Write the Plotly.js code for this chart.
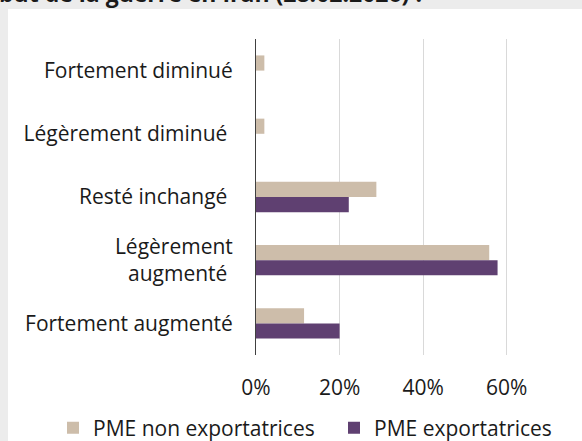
<!DOCTYPE html>
<html>
<head>
<meta charset="utf-8">
<script src="https://cdn.plot.ly/plotly-3.0.1.min.js"></script>
<style>html,body{margin:0;padding:0;background:#ECECEC;}#chart{width:582px;height:441px;}</style>
</head>
<body>
<div id="chart"></div>
<script>
var categories = ["Fortement diminué", "Légèrement diminué\u00a0", "Resté inchangé\u00a0", "Légèrement<br>augmenté\u00a0", "Fortement augmenté"];
var nonExportValues = [0.02, 0.02, 0.288, 0.558, 0.115];
var exportValues = [0, 0, 0.222, 0.578, 0.20];
var seriesNames = ["PME non exportatrices", "PME exportatrices"];
var titleText = "but de la guerre en Iran (28.02.2026) :";
var xTickValues = [0, 0.2, 0.4, 0.6];
var xTickLabels = ["0%", "20%", "40%", "60%"];

var FONT = "'Open Sans', 'Noto Sans', sans-serif";
var W = 582, H = 441;
var mL = 256, mR = 0, mT = 39, mB = 86;
var pw = W - mL - mR, ph = H - mT - mB;
function px(x){ return (x - mL) / pw; }
function py(y){ return (H - mB - y) / ph; }

var traces = [
  {type: "bar", orientation: "h", name: seriesNames[0], y: categories, x: nonExportValues,
   marker: {color: "#CDBDAA", line: {width: 0}}, hoverinfo: "x+y"},
  {type: "bar", orientation: "h", name: seriesNames[1], y: categories, x: exportValues,
   marker: {color: "#5F4071", line: {width: 0}}, hoverinfo: "x+y"}
];

var layout = {
  width: W, height: H,
  margin: {l: mL, r: mR, t: mT, b: mB, pad: 0, autoexpand: false},
  paper_bgcolor: "#ECECEC",
  plot_bgcolor: "#FFFFFF",
  font: {family: FONT, size: 21, color: "#1A1A1A"},
  barmode: "group",
  bargap: 0.52,
  bargroupgap: 0,
  showlegend: true,
  legend: {orientation: "h", traceorder: "normal", x: px(53), xanchor: "left", y: py(428), yanchor: "middle",
           font: {family: FONT, size: 21, color: "#1A1A1A"}, bgcolor: "rgba(0,0,0,0)", entrywidth: 236},
  xaxis: {range: [0, 0.78], tickvals: xTickValues, ticktext: xTickLabels, showgrid: true, gridcolor: "#D9D9D9", gridwidth: 1,
          zeroline: false, showline: false, ticks: "", ticklabelstandoff: 18, fixedrange: true,
          tickfont: {family: FONT, size: 21, color: "#1A1A1A"}},
  yaxis: {type: "category", autorange: "reversed", showgrid: false, zeroline: false, showline: true, linecolor: "#404040", linewidth: 1,
          ticks: "", ticklabelstandoff: 18, fixedrange: true,
          tickfont: {family: FONT, size: 21, color: "#1A1A1A"}},
  shapes: [
    {type: "rect", xref: "paper", yref: "paper", x0: px(8), x1: px(W + 5), y0: py(H + 5), y1: py(9),
     fillcolor: "#FFFFFF", line: {width: 0}, layer: "below"}
  ],
  annotations: [
    {text: "<b>" + titleText + "</b>", xref: "paper", yref: "paper", x: px(-3), xanchor: "left", y: py(-7), yanchor: "middle",
     showarrow: false, font: {family: FONT, size: 23, color: "#1A1A1A"}}
  ]
};

Plotly.newPlot("chart", traces, layout, {displayModeBar: false, staticPlot: true});
</script>
</body>
</html>
